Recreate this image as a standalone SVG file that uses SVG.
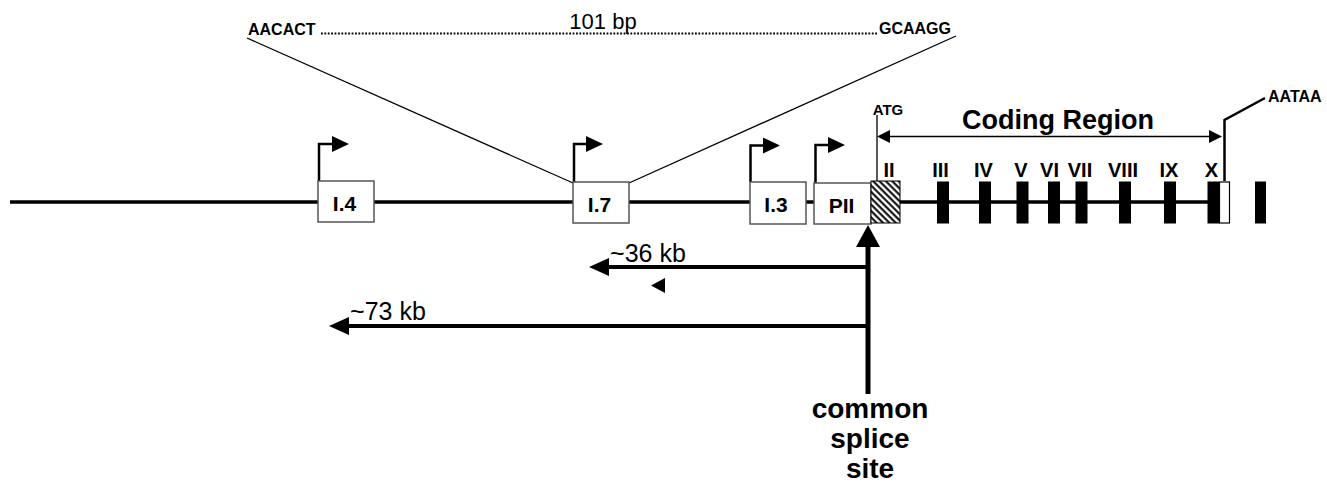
<svg xmlns="http://www.w3.org/2000/svg" width="1327" height="487" viewBox="0 0 1327 487">
<defs>
<style>
text{font-family:"Liberation Sans",Arial,Helvetica,sans-serif;fill:#000}
.b{font-weight:bold}
.box{fill:#fff;stroke:#555;stroke-width:1.5}
.ex{fill:#000}
.prom{fill:none;stroke:#000;stroke-width:2.5}
.thin{fill:none;stroke:#000;stroke-width:1.3}
.thick{fill:none;stroke:#000;stroke-width:4}
.lbl{font-weight:bold;font-size:20px;text-anchor:middle}
.boxlbl{font-weight:bold;font-size:21px;text-anchor:middle}
</style>
<pattern id="hatch" patternUnits="userSpaceOnUse" width="4.5" height="4.5" patternTransform="rotate(45)">
<rect width="4.5" height="4.5" fill="#fff"/>
<line x1="0" y1="1.2" x2="4.5" y2="1.2" stroke="#000" stroke-width="2"/>
</pattern>
<marker id="promHead" markerUnits="userSpaceOnUse" markerWidth="17" markerHeight="16" refX="0" refY="8" orient="auto"><path d="M0,0 L17,8 L0,16 Z" fill="#000"/></marker>
<marker id="kbHead" markerUnits="userSpaceOnUse" markerWidth="20" markerHeight="18" refX="0" refY="9" orient="auto"><path d="M0,0 L20,9 L0,18 Z" fill="#000"/></marker>
<marker id="spliceHead" markerUnits="userSpaceOnUse" markerWidth="22" markerHeight="24" refX="0" refY="12" orient="auto"><path d="M0,0 L22,12 L0,24 Z" fill="#000"/></marker>
<marker id="codHead" markerUnits="userSpaceOnUse" markerWidth="13" markerHeight="13" refX="0" refY="6.5" orient="auto-start-reverse"><path d="M0,0 L13,6.5 L0,13 Z" fill="#000"/></marker>
</defs>

<g id="axis">
<path d="M10,202 H1219" fill="none" stroke="#000" stroke-width="3.5"/>
</g>

<g id="connectors">
<path class="thin" d="M573,183 L247,38"/>
<path class="thin" d="M629,183 L956,36"/>
<path d="M321,33.5 H877" fill="none" stroke="#000" stroke-width="2" stroke-dasharray="1.8 1.6"/>
<path class="thin" d="M877,181 V115"/>
<path class="thin" d="M890,136.5 H1209" marker-start="url(#codHead)" marker-end="url(#codHead)"/>
<path d="M1224.5,181 V120 L1265,98" fill="none" stroke="#000" stroke-width="2.5"/>
<path class="prom" d="M319,181 V144 H332" marker-end="url(#promHead)"/>
<path class="prom" d="M574,182 V144 H586" marker-end="url(#promHead)"/>
<path class="prom" d="M750.5,182 V145.5 H763" marker-end="url(#promHead)"/>
<path class="prom" d="M815.5,183 V145 H828" marker-end="url(#promHead)"/>
<path class="thick" d="M868,267 H609" marker-end="url(#kbHead)"/>
<path class="thick" d="M868,326 H349" marker-end="url(#kbHead)"/>
<polygon points="665,278 651,285.5 665,293" fill="#000"/>
<path d="M868,394 V247" fill="none" stroke="#000" stroke-width="5" marker-end="url(#spliceHead)"/>
</g>

<g id="seq-top">
<text class="b" x="248" y="34.5" font-size="16">AACACT</text>
<text x="603" y="28.5" font-size="22" text-anchor="middle">101 bp</text>
<text class="b" x="879" y="34" font-size="16">GCAAGG</text>
</g>

<g id="exon-I4"><rect class="box" x="318" y="181" width="56" height="41"/><text class="boxlbl" x="344.5" y="211">I.4</text></g>
<g id="exon-I7"><rect class="box" x="573" y="182" width="56" height="41"/><text class="boxlbl" x="599.5" y="212">I.7</text></g>
<g id="exon-I3"><rect class="box" x="750" y="182" width="56" height="42"/><text class="boxlbl" x="776" y="212">I.3</text></g>
<g id="exon-PII"><rect class="box" x="814" y="183" width="57" height="41"/><text class="boxlbl" x="841.5" y="212.5">PII</text></g>

<g id="exon-II"><rect x="871" y="181" width="29" height="42" fill="url(#hatch)" stroke="#000" stroke-width="1"/><text class="lbl" x="889" y="177">II</text></g>
<g id="atg"><text class="b" x="888" y="115" font-size="15" text-anchor="middle">ATG</text></g>
<g id="exon-III"><rect class="ex" x="937" y="181.5" width="12" height="42"/><text class="lbl" x="940.5" y="177">III</text></g>
<g id="exon-IV"><rect class="ex" x="979" y="181.5" width="12" height="42"/><text class="lbl" x="983.5" y="177">IV</text></g>
<g id="exon-V"><rect class="ex" x="1016.5" y="181.5" width="12" height="42"/><text class="lbl" x="1021" y="177">V</text></g>
<g id="exon-VI"><rect class="ex" x="1048" y="181.5" width="12" height="42"/><text class="lbl" x="1049.5" y="177">VI</text></g>
<g id="exon-VII"><rect class="ex" x="1075.5" y="181.5" width="12" height="42"/><text class="lbl" x="1080" y="177">VII</text></g>
<g id="exon-VIII"><rect class="ex" x="1119" y="181.5" width="12" height="42"/><text class="lbl" x="1123" y="177">VIII</text></g>
<g id="exon-IX"><rect class="ex" x="1164" y="181.5" width="12" height="42"/><text class="lbl" x="1169" y="177">IX</text></g>
<g id="exon-X"><rect class="ex" x="1207.5" y="181.5" width="12" height="42"/><rect x="1219.5" y="182" width="10" height="41" fill="#fff" stroke="#000" stroke-width="1.2"/><text class="lbl" x="1211.5" y="177">X</text></g>
<g id="exon-last"><rect class="ex" x="1255" y="181.5" width="11" height="42"/></g>

<g id="coding-label"><text class="b" x="1058" y="129" font-size="27" text-anchor="middle">Coding Region</text></g>
<g id="aataa"><text class="b" x="1268" y="102" font-size="16">AATAA</text></g>
<g id="kb36"><text x="648" y="262" font-size="25" text-anchor="middle">~36 kb</text></g>
<g id="kb73"><text x="388" y="320" font-size="25" text-anchor="middle">~73 kb</text></g>
<g id="splice-label">
<text class="b" font-size="28" text-anchor="middle"><tspan x="870" y="418">common</tspan><tspan x="870" y="448">splice</tspan><tspan x="870" y="478">site</tspan></text>
</g>
</svg>
